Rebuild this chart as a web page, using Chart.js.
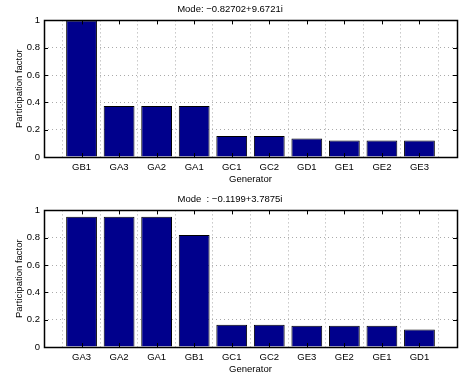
<!DOCTYPE html>
<html>
<head>
<meta charset="utf-8">
<script src="https://cdn.jsdelivr.net/npm/chart.js@4/dist/chart.umd.min.js"></script>
<style>
  html, body { margin: 0; padding: 0; background: #fff; }
  body { width: 462px; height: 377px; position: relative; overflow: hidden; }
  .panel { position: absolute; left: 0; width: 462px; height: 188px; }
  #top { top: 0; }
  #bottom { top: 190px; }
</style>
</head>
<body>
<div class="panel" id="top"><canvas id="c1" width="462" height="188"></canvas></div>
<div class="panel" id="bottom"><canvas id="c2" width="462" height="188"></canvas></div>
<script>
// Mode 1: -0.82702+9.6721i
const title1 = 'Mode: \u22120.82702+9.6721i';
const generators1 = ['GB1', 'GA3', 'GA2', 'GA1', 'GC1', 'GC2', 'GD1', 'GE1', 'GE2', 'GE3'];
const factors1 = [1.0, 0.374, 0.374, 0.374, 0.154, 0.154, 0.135, 0.121, 0.121, 0.121];

// Mode 2: -0.1199+3.7875i
const title2 = 'Mode  : \u22120.1199+3.7875i';
const generators2 = ['GA3', 'GA2', 'GA1', 'GB1', 'GC1', 'GC2', 'GE3', 'GE2', 'GE1', 'GD1'];
const factors2 = [0.954, 0.954, 0.954, 0.819, 0.162, 0.162, 0.155, 0.155, 0.155, 0.128];

const yTicks = [0, 0.2, 0.4, 0.6, 0.8, 1];
const FONT = 'Liberation Sans, Arial, Helvetica, sans-serif';
const FS = 9.5;

// Box around the plot area plus small inward tick marks on all four sides
const boxPlugin = {
  id: 'box',
  afterDatasetsDraw(chart) {
    const { ctx, chartArea: a, scales } = chart;
    ctx.save();
    ctx.strokeStyle = '#000';
    ctx.lineWidth = 1;
    ctx.setLineDash([]);
    ctx.beginPath();
    const n = chart.data.datasets[0].data.length;
    for (let i = 1; i <= n; i++) {
      const x = Math.round(scales.x.getPixelForValue(i)) + 0.5;
      ctx.moveTo(x, a.bottom); ctx.lineTo(x, a.bottom - 4);
      ctx.moveTo(x, a.top); ctx.lineTo(x, a.top + 4);
    }
    yTicks.forEach(v => {
      const y = Math.round(scales.y.getPixelForValue(v)) + 0.5;
      ctx.moveTo(a.left, y); ctx.lineTo(a.left + 4, y);
      ctx.moveTo(a.right, y); ctx.lineTo(a.right - 4, y);
    });
    ctx.stroke();
    ctx.lineWidth = 1.5;
    ctx.strokeRect(Math.round(a.left) + 0.5, Math.round(a.top) + 0.5,
                   Math.round(a.right - a.left), Math.round(a.bottom - a.top));
    ctx.restore();
  }
};

function makeChart(canvasId, titleText, labels, values) {
  const points = values.map((v, i) => ({ x: i + 1, y: v }));
  return new Chart(document.getElementById(canvasId), {
    type: 'bar',
    data: {
      datasets: [{
        data: points,
        backgroundColor: '#00008c',
        borderColor: '#000',
        borderWidth: 1,
        barPercentage: 0.82,
        categoryPercentage: 1.0
      }]
    },
    options: {
      responsive: false,
      animation: false,
      devicePixelRatio: 1,
      layout: { padding: { left: 0, right: 2, top: 0, bottom: 0 } },
      plugins: {
        legend: { display: false },
        tooltip: { enabled: false },
        title: {
          display: true,
          text: titleText,
          color: '#000',
          font: { family: FONT, size: FS, weight: 'normal' },
          padding: { top: 4, bottom: 5 }
        }
      },
      scales: {
        x: {
          type: 'linear',
          min: 0,
          max: 11,
          offset: false,
          afterBuildTicks(scale) {
            // ends of the axis carry empty labels; categories sit at 1..n
            const t = [{ value: 0 }];
            labels.forEach((_, i) => t.push({ value: i + 1 }));
            t.push({ value: labels.length + 1 });
            scale.ticks = t;
          },
          afterFit(scale) { scale.height = 31; },
          grid: {
            display: true,
            drawTicks: false,
            color: '#aaa',
            lineWidth: 1
          },
          border: { display: false, dash: [1, 3] },
          ticks: {
            padding: 5,
            color: '#000',
            autoSkip: false,
            maxRotation: 0,
            font: { family: FONT, size: FS },
            callback: (v) => labels[v - 1] || ''
          },
          title: {
            display: true,
            text: 'Generator',
            color: '#000',
            font: { family: FONT, size: FS },
            padding: { top: 0, bottom: 3 }
          }
        },
        y: {
          min: 0,
          max: 1,
          afterBuildTicks(scale) {
            scale.ticks = yTicks.map(v => ({ value: v }));
          },
          afterFit(scale) { scale.width = 44; },
          grid: {
            display: true,
            drawTicks: false,
            color: '#aaa',
            lineWidth: 1
          },
          border: { display: false, dash: [1, 3] },
          ticks: {
            padding: 4,
            color: '#000',
            font: { family: FONT, size: FS },
            callback: (v) => String(v)
          },
          title: {
            display: true,
            text: 'Participation factor',
            color: '#000',
            font: { family: FONT, size: FS },
            padding: { top: 14, bottom: 0 }
          }
        }
      }
    },
    plugins: [boxPlugin]
  });
}

makeChart('c1', title1, generators1, factors1);
makeChart('c2', title2, generators2, factors2);
</script>
</body>
</html>
